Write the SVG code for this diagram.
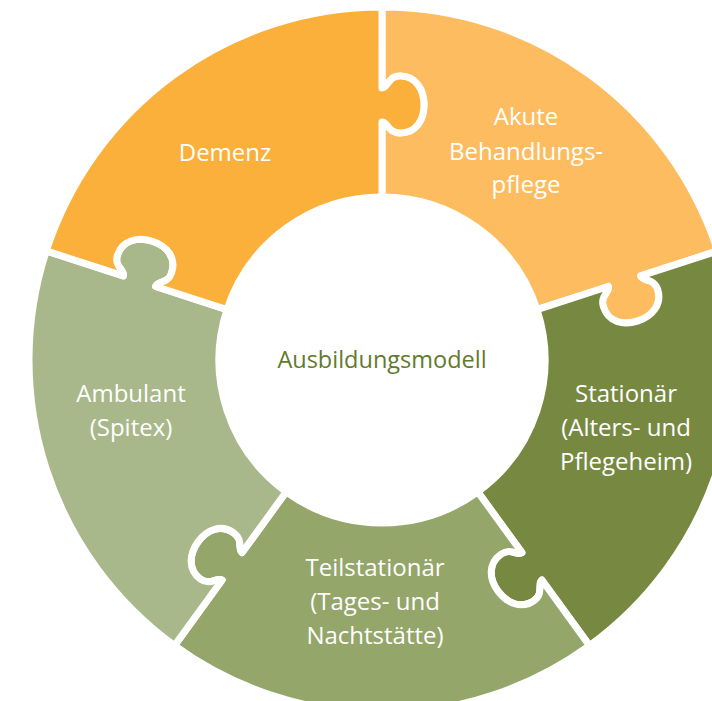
<svg xmlns="http://www.w3.org/2000/svg" xmlns:xlink="http://www.w3.org/1999/xlink" width="712" height="701" viewBox="0 0 712 701">
  <style>
    .piece { stroke: #FFFFFF; stroke-width: 7; stroke-linejoin: round; }
    .lbl { font-family: "Open Sans", "Noto Sans", "Liberation Sans", sans-serif; font-size: 24px; fill: #FFFFFF; text-anchor: middle; }
    .center { font-family: "Open Sans", "Noto Sans", "Liberation Sans", sans-serif; font-size: 23.5px; fill: #627A2C; text-anchor: middle; }
  </style>
  <defs>
    <path id="piece" d="M0,-163 L0,-238 C6,-238 6,-227 18,-227 C34,-227 42,-240 42,-255 C42,-270 34,-284 18,-284 C6,-284 6,-272 0,-272 L0,-353 A353,353 0 0 1 335.723,-109.083 L258.688,-84.053 C260.542,-78.347 271.954,-82.055 275.662,-70.642 C280.607,-55.425 269.764,-43.491 255.499,-38.855 C241.233,-34.220 226.397,-37.811 221.452,-53.028 C217.744,-64.441 228.206,-67.840 226.352,-73.546 L155.022,-50.370 A163,163 0 0 0 0,-163 Z"/>
  </defs>
  <rect width="712" height="701" fill="#FFFFFF"/>
  <g id="akute">
    <use xlink:href="#piece" class="piece" fill="#FDBC5F" transform="translate(382,360) rotate(0)"/>
    <text class="lbl" x="526" y="125">Akute</text>
    <text class="lbl" x="526" y="159.5">Behandlungs-</text>
    <text class="lbl" x="526" y="193">pflege</text>
  </g>
  <g id="stationaer">
    <use xlink:href="#piece" class="piece" fill="#778941" transform="translate(382,360) rotate(72)"/>
    <text class="lbl" x="626" y="401.5">Stationär</text>
    <text class="lbl" x="626" y="436">(Alters- und</text>
    <text class="lbl" x="626" y="470">Pflegeheim)</text>
  </g>
  <g id="teilstationaer">
    <use xlink:href="#piece" class="piece" fill="#94A66A" transform="translate(382,360) rotate(144)"/>
    <text class="lbl" x="375" y="576">Teilstationär</text>
    <text class="lbl" x="375" y="610">(Tages- und</text>
    <text class="lbl" x="375" y="644">Nachtstätte)</text>
  </g>
  <g id="ambulant">
    <use xlink:href="#piece" class="piece" fill="#A9B88A" transform="translate(382,360) rotate(216)"/>
    <text class="lbl" x="131" y="402">Ambulant</text>
    <text class="lbl" x="131" y="436">(Spitex)</text>
  </g>
  <g id="demenz">
    <use xlink:href="#piece" class="piece" fill="#FBB03B" transform="translate(382,360) rotate(288)"/>
    <text class="lbl" x="225" y="160.5">Demenz</text>
  </g>
  <g id="center">
    <text class="center" x="382" y="368">Ausbildungsmodell</text>
  </g>
  <g id="connectors"/>
</svg>
